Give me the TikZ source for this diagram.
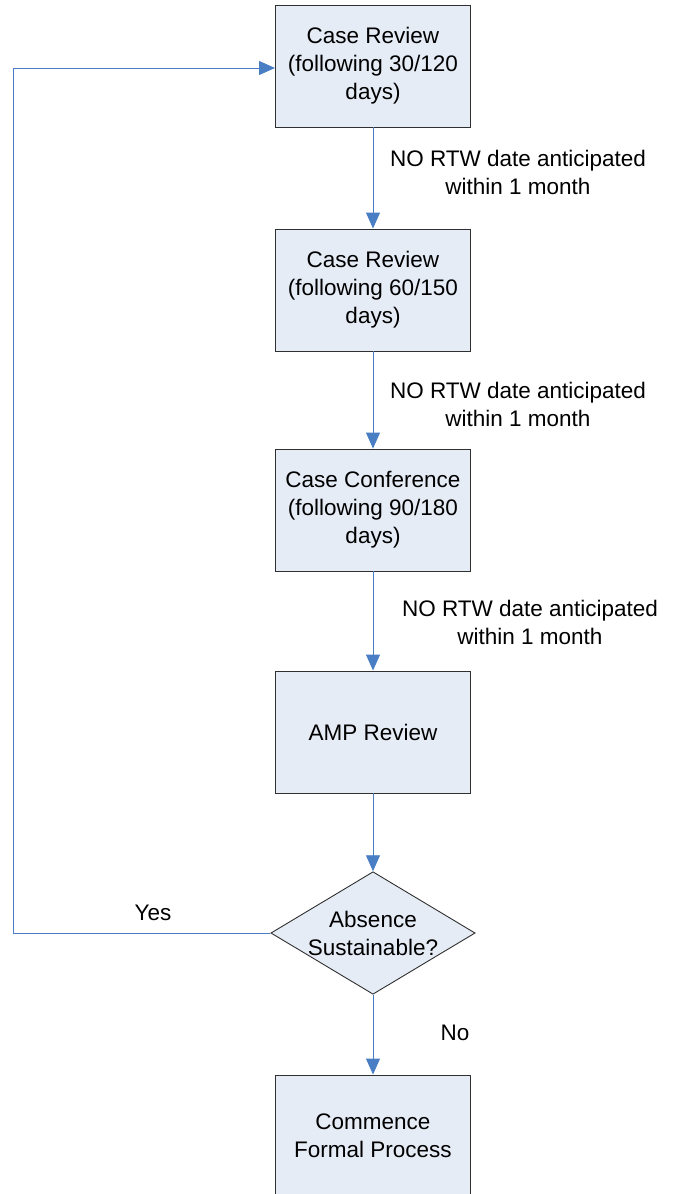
\documentclass[tikz,border=0pt]{standalone}
\usepackage{fontspec}
\setmainfont{Liberation Sans}
\usetikzlibrary{shapes.geometric,arrows.meta}
\definecolor{boxfill}{HTML}{E6ECF6}
\definecolor{flowblue}{HTML}{4A7EC4}
\definecolor{edgegray}{HTML}{303030}
\begin{document}
\begin{tikzpicture}[x=1pt,y=-1pt,
  font=\fontsize{22.5}{28}\selectfont,
  stepbox/.style={draw=edgegray,line width=0.9pt,fill=boxfill,minimum width=195pt,minimum height=122pt,align=center,inner sep=0pt},
  decision/.style={diamond,draw=edgegray,line width=0.9pt,fill=boxfill,minimum width=200pt,minimum height=120pt,aspect=1.667,align=center,inner sep=0pt},
  flow/.style={draw=flowblue,line width=0.9pt,-{Triangle[width=14pt,length=16pt]}},
  lbl/.style={align=center,inner sep=0pt}]
\useasboundingbox (0,0) rectangle (674,1194);
\node[stepbox] (r1) at (373,66) {Case Review\\(following 30/120\\days)};
\node[stepbox] (r2) at (373,290) {Case Review\\(following 60/150\\days)};
\node[stepbox] (r3) at (373,510) {Case Conference\\(following 90/180\\days)};
\node[stepbox] (amp) at (373,732) {AMP Review};
\node[decision] (d) at (373,933) {Absence\\Sustainable?};
\node[stepbox] (fp) at (373,1136) {Commence\\Formal Process};
\coordinate (c1) at (13,933);
\coordinate (c2) at (13,68);
\draw[flow] (r1) -- (r2);
\draw[flow] (r2) -- (r3);
\draw[flow] (r3) -- (amp);
\draw[flow] (amp) -- (d);
\draw[flow] (d) -- (fp);
\draw[flow] (d.west) -- (c1) -- (c2) -- (r1.west |- c2);
\node[lbl] at (518,172) {NO RTW date anticipated\\within 1 month};
\node[lbl] at (518,404) {NO RTW date anticipated\\within 1 month};
\node[lbl] at (530,622) {NO RTW date anticipated\\within 1 month};
\node[lbl] at (153,913) {Yes};
\node[lbl] at (455,1033) {No};
\end{tikzpicture}
\end{document}
